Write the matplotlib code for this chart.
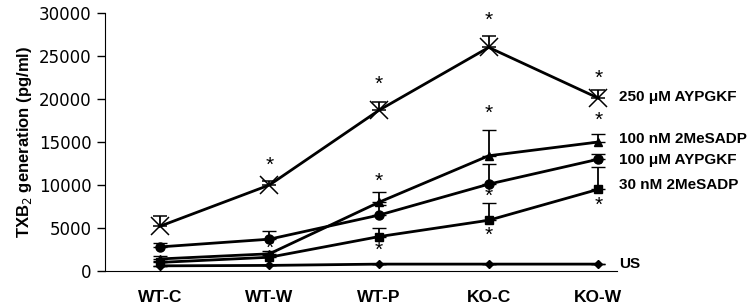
import numpy as np
import matplotlib.pyplot as plt

plt.rcParams['font.family'] = ['Liberation Sans', 'DejaVu Sans']

categories = ["WT-C", "WT-W", "WT-P", "KO-C", "KO-W"]

# series values (pg/ml) and upper error
agypgkf_250 = [5200, 10000, 18700, 26000, 20100]
agypgkf_250_err = [1200, 500, 1000, 1300, 900]
mesadp_100 = [1400, 2000, 8000, 13400, 15000]
mesadp_100_err = [300, 300, 1200, 3000, 900]
agypgkf_100 = [2800, 3700, 6500, 10100, 13000]
agypgkf_100_err = [500, 1000, 1200, 2400, 600]
mesadp_30 = [1000, 1600, 4000, 5900, 9500]
mesadp_30_err = [200, 300, 1000, 2000, 2600]
us = [600, 650, 800, 800, 800]
us_err = [0, 0, 0, 0, 0]

labels = ["250 \u03bcM AYPGKF", "100 nM 2MeSADP", "100 \u03bcM AYPGKF", "30 nM 2MeSADP", "US"]
label_y = [20200, 15400, 12900, 10000, 800]

# significance asterisks (category index, y)
star_x = [1, 1, 2, 2, 2, 2, 3, 3, 3, 3, 4, 4, 4, 4]
star_y = [12300, 2600, 21700, 10400, 5900, 2400, 29100, 18300, 8700, 4100, 22400, 17500, 12300, 7600]

fig = plt.figure(figsize=(7.51, 3.08), dpi=100)
ax = fig.add_axes([105/751, 37/308, 512/751, 258/308])
x = np.arange(len(categories))

series = [
    (agypgkf_250, agypgkf_250_err, "x", 13, 1.1),
    (mesadp_100, mesadp_100_err, "^", 5.5, 1),
    (agypgkf_100, agypgkf_100_err, "o", 6.5, 1),
    (mesadp_30, mesadp_30_err, "s", 6, 1),
    (us, us_err, "D", 4, 1),
]
for vals, err, mk, ms, mew in series:
    ax.errorbar(x, vals, yerr=[np.zeros(len(err)), err], color="black", lw=2,
                marker=mk, ms=ms, mew=mew, capsize=5, elinewidth=1.3, capthick=1.3)

for sx, sy in zip(star_x, star_y):
    ax.text(sx, sy, "*", ha="center", va="center", fontsize=15)

for lab, ly in zip(labels, label_y):
    ax.text(4.19, ly, lab, ha="left", va="center", fontsize=11, fontweight="bold",
            clip_on=False)

ax.set_xlim(-0.5, 4.17)
ax.set_ylim(0, 30000)
ax.set_yticks(range(0, 30001, 5000))
ax.tick_params(axis="y", labelsize=12, length=6, width=1)
ax.set_yticklabels([str(v) for v in range(0, 30001, 5000)], family="DejaVu Sans")
ax.set_xticks(x)
ax.set_xticklabels(categories, fontsize=12.5, fontweight="bold")
ax.tick_params(axis="x", length=0, pad=14)
ax.spines["top"].set_visible(False)
ax.spines["right"].set_visible(False)
ax.set_ylabel("TXB$_2$ generation (pg/ml)", fontsize=12, fontweight="bold", labelpad=4)

fig.savefig("out.png", dpi=100)
